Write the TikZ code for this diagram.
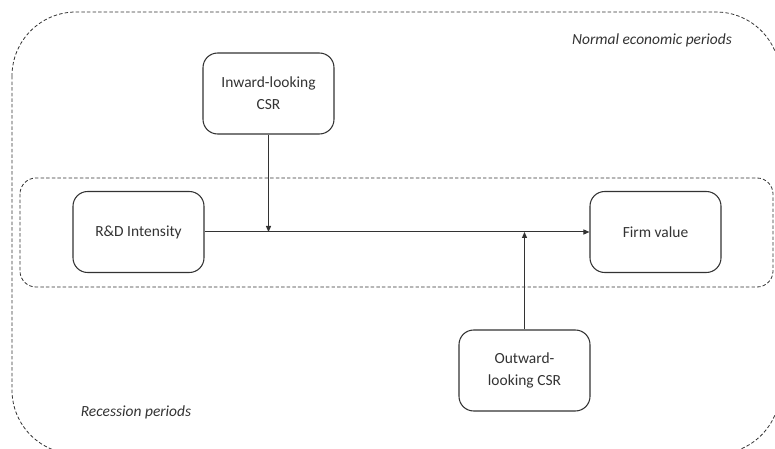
\documentclass[tikz,border=0pt]{standalone}
\usepackage{fontspec}
\setmainfont{Carlito}
\usetikzlibrary{arrows.meta}
\definecolor{ink}{HTML}{333333}
\tikzset{
  box/.style={draw=ink, line width=0.8pt, rounded corners=11pt, minimum width=98.25pt, minimum height=60.75pt, inner sep=0pt, align=center, text=ink, font=\fontsize{11.6}{16.5}\selectfont},
  grp/.style={draw=ink, line width=0.6pt, dash pattern=on 2.6pt off 1.6pt},
  lbl/.style={text=ink, font=\fontsize{11.6}{14}\selectfont\itshape, inner sep=0pt},
  conn/.style={draw=ink, line width=0.75pt, -{Triangle[length=4.5pt,width=3.8pt]}}
}
\begin{document}
\begin{tikzpicture}[x=0.75pt,y=-0.75pt]
\useasboundingbox (0,0) rectangle (775,449);
\begin{scope}
\clip (0,0) rectangle (775,449);
\draw[grp, rounded corners=48pt] (12,12) rectangle (780,454);
\end{scope}
\draw[grp, rounded corners=12pt] (20,178) rectangle (773,287);
\node[lbl] (normal) at (652,40) {Normal economic periods};
\node[lbl] (recess) at (136,412) {Recession periods};
\node[box] (inw) at (268.5,93.5) {Inward-looking\\CSR};
\node[box] (rd) at (138.5,232) {R\&D Intensity};
\node[box] (firm) at (655.5,232) {Firm value};
\node[box] (outw) at (524.5,370.5) {Outward-\\looking CSR};
\coordinate (j1) at (268.5,232);
\coordinate (j2) at (524.5,232);
\draw[conn] (rd) -- (firm);
\draw[conn] (inw) -- (j1);
\draw[conn] (outw) -- (j2);
\end{tikzpicture}
\end{document}
